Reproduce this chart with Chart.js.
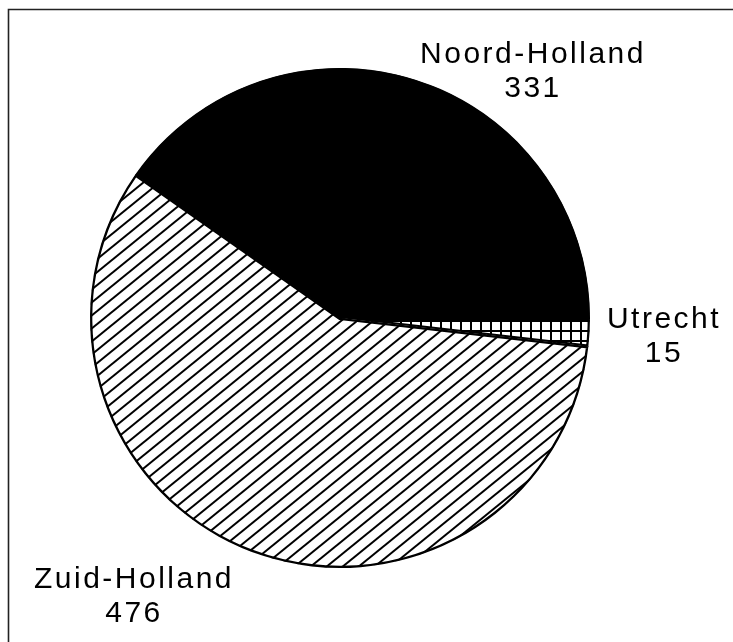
<!DOCTYPE html>
<html>
<head>
<meta charset="utf-8">
<script src="https://cdn.jsdelivr.net/npm/chart.js@4.4.1/dist/chart.umd.min.js"></script>
<style>
html,body{margin:0;padding:0;background:#fff;}
canvas{display:block;}
</style>
</head>
<body>
<canvas id="c" width="733" height="642"></canvas>
<script>
// Data (clockwise from 3 o'clock)
const categories = ['Utrecht', 'Zuid-Holland', 'Noord-Holland'];
const values = [15, 476, 331];

function gridPattern() {
  const c = document.createElement('canvas');
  c.width = 10; c.height = 10;
  const g = c.getContext('2d');
  g.fillStyle = '#fff'; g.fillRect(0, 0, 10, 10);
  g.fillStyle = '#000';
  g.fillRect(0, 0, 10, 2);
  g.fillRect(0, 0, 2, 10);
  return g.createPattern(c, 'repeat');
}
function hatchPattern() {
  const w = 16, h = 13;
  const c = document.createElement('canvas');
  c.width = w; c.height = h;
  const g = c.getContext('2d');
  g.fillStyle = '#fff'; g.fillRect(0, 0, w, h);
  g.strokeStyle = '#000'; g.lineWidth = 2; g.lineCap = 'square';
  for (let k = -1; k <= 1; k++) {
    g.beginPath();
    g.moveTo(k * w - w, 2 * h);
    g.lineTo(k * w + 2 * w, -h);
    g.stroke();
  }
  return g.createPattern(c, 'repeat');
}

const fills = [gridPattern(), hatchPattern(), '#000'];

const frameAndLabels = {
  id: 'frameAndLabels',
  beforeDraw(chart) {
    const ctx = chart.ctx;
    ctx.save();
    ctx.fillStyle = '#fff';
    ctx.fillRect(0, 0, chart.width, chart.height);
    ctx.restore();
  },
  afterDraw(chart) {
    const ctx = chart.ctx;
    ctx.save();
    ctx.strokeStyle = '#222';
    ctx.lineWidth = 1.6;
    ctx.beginPath();
    ctx.moveTo(8.5, 642);
    ctx.lineTo(8.5, 9.5);
    ctx.lineTo(733, 9.5);
    ctx.stroke();

    ctx.fillStyle = '#000';
    ctx.font = '30px "Liberation Sans", Arial, sans-serif';
    ctx.textAlign = 'center';
    ctx.textBaseline = 'alphabetic';
    ctx.letterSpacing = '2.5px';
    const anchors = {
      'Noord-Holland': [533, 63],
      'Utrecht': [664, 328],
      'Zuid-Holland': [134, 588]
    };
    categories.forEach((name, i) => {
      const [x, y] = anchors[name];
      ctx.fillText(name, x, y);
      ctx.fillText(String(values[i]), x, y + 34);
    });
    ctx.restore();
  }
};

new Chart(document.getElementById('c'), {
  type: 'pie',
  data: {
    labels: categories,
    datasets: [{
      data: values,
      backgroundColor: fills,
      borderColor: '#000',
      borderWidth: 2,
      borderAlign: 'inner'
    }]
  },
  options: {
    responsive: false,
    animation: false,
    rotation: 90,
    radius: 250,
    layout: { padding: { left: 0, right: 53, top: 0, bottom: 6 } },
    plugins: { legend: { display: false }, tooltip: { enabled: false } }
  },
  plugins: [frameAndLabels]
});
</script>
</body>
</html>
